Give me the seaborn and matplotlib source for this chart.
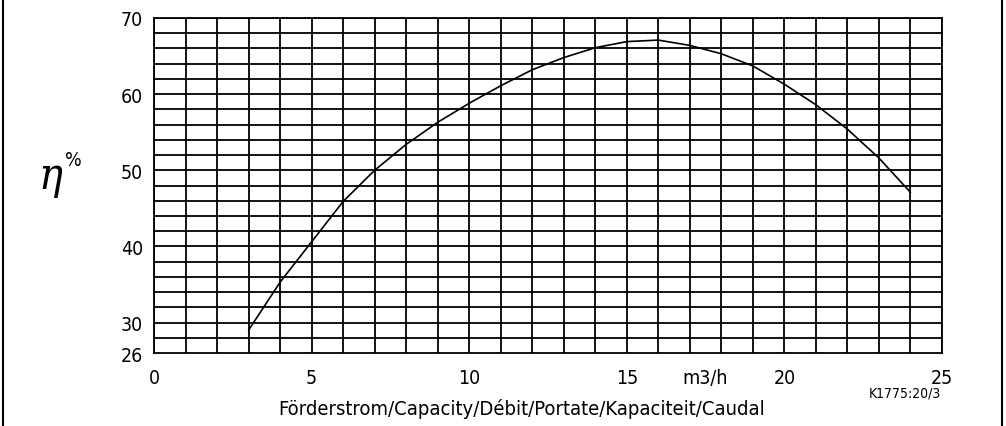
import matplotlib
matplotlib.use("Agg")
import matplotlib.pyplot as plt
import seaborn as sns
import numpy as np
import pandas as pd
from matplotlib.lines import Line2D
from matplotlib import font_manager as fm

# ---- data ----
flow = [3, 4, 5, 6, 7, 8, 9, 10, 11, 12, 13, 14, 15, 16, 17, 18, 19, 20, 21, 22, 23, 24]
efficiency = [29.0, 35.3, 40.6, 45.9, 50.0, 53.4, 56.3, 58.8, 61.1, 63.2, 64.8, 66.1,
              66.9, 67.1, 66.4, 65.3, 63.7, 61.3, 58.6, 55.4, 51.6, 47.1]
x_tick_values = [0, 5, 10, 15, 17.5, 20, 25]
x_tick_labels = ["0", "5", "10", "15", "m3/h", "20", "25"]
y_tick_labels = ["26", "30", "40", "50", "60", "70"]
x_title = "Förderstrom/Capacity/Débit/Portate/Kapaciteit/Caudal"
y_title = "η"
code_label = "K1775:20/3"

sns.set_style("white")
names = {f.name for f in fm.fontManager.ttflist}
FONT = ["Liberation Sans Narrow", "DejaVu Sans"] if "Liberation Sans Narrow" in names else ["DejaVu Sans"]
STRETCH = "condensed"
plt.rcParams["font.family"] = FONT
plt.rcParams["font.stretch"] = STRETCH
plt.rcParams["text.color"] = "black"

fig = plt.figure(figsize=(10.06, 4.27), dpi=100)
ax = fig.add_axes([154 / 1006, 1 - 354 / 427, 788 / 1006, 335 / 427])

df = pd.DataFrame({"flow": flow, "eff": efficiency})
sns.lineplot(data=df, x="flow", y="eff", ax=ax, color="black", lw=1.2)

ax.set_xlim(0, 25)
ax.set_ylim(26, 70)

# grid
for xv in range(0, 26):
    ax.axvline(xv, color="black", lw=1.3, zorder=0)
for yv in range(28, 71, 2):
    ax.axhline(yv, color="black", lw=1.3, zorder=0)
for s in ax.spines.values():
    s.set_color("black")
    s.set_linewidth(1.3)

ax.set_xticks(x_tick_values)
ax.set_xticklabels(x_tick_labels)
ax.set_xticks(range(0, 26), minor=True)
ax.set_yticks([float(v) for v in y_tick_labels])
ax.set_yticklabels(y_tick_labels)
ax.tick_params(axis="both", which="both", direction="out", length=4, width=1.2,
               colors="black", labelsize=14, pad=4)
ax.tick_params(axis="x", which="major", pad=7)
for t, v in zip(ax.xaxis.get_major_ticks(), x_tick_values):
    if v == 17.5:
        t.tick1line.set_visible(False)
ax.set_xlabel("")
ax.set_ylabel("")

fig.text(522 / 1006, 1 - 409 / 427, x_title, ha="center", va="center",
         fontsize=14.5, family=FONT, stretch=STRETCH, color="black")
fig.text(905 / 1006, 1 - 394 / 427, code_label, ha="center", va="center",
         fontsize=10, family=FONT, stretch=STRETCH, color="black")
fig.text(50 / 1006, 1 - 176 / 427, y_title, ha="center", va="center",
         fontsize=32, style="italic", family=["DejaVu Serif"], color="black")
fig.text(73 / 1006, 1 - 161 / 427, "%", ha="center", va="center",
         fontsize=14, family=FONT, stretch=STRETCH, color="black")

# side frame lines
fig.add_artist(Line2D([3 / 1006, 3 / 1006], [0, 1], color="black", lw=1.5,
                      transform=fig.transFigure))
fig.add_artist(Line2D([1002 / 1006, 1002 / 1006], [0, 1], color="black", lw=1.5,
                      transform=fig.transFigure))

fig.savefig("out.png", dpi=100)
